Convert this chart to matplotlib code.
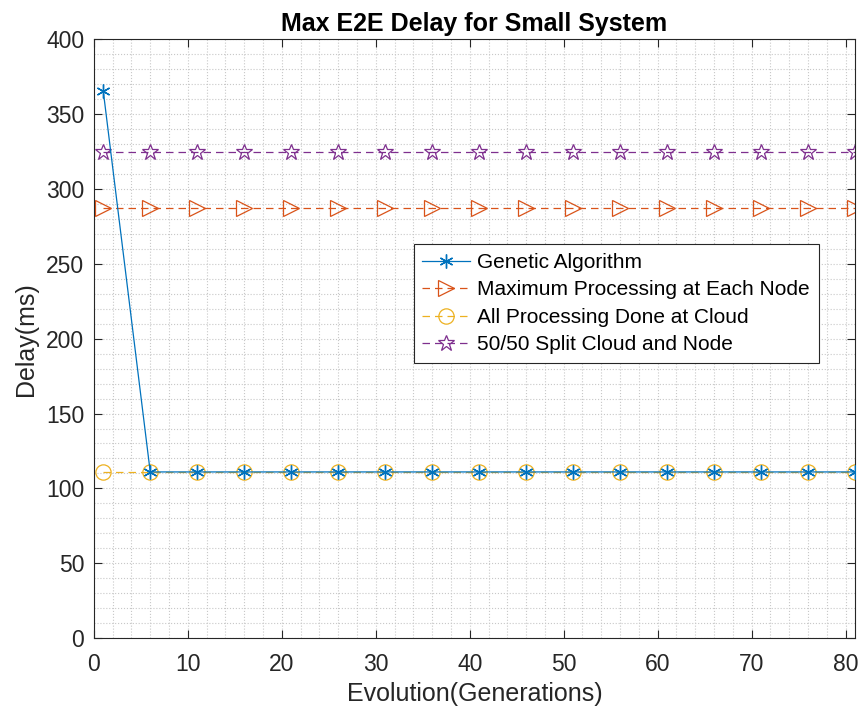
import matplotlib.pyplot as plt
from matplotlib.ticker import MultipleLocator

plt.rcParams['font.family'] = ['Liberation Sans', 'DejaVu Sans']

generations = [1, 6, 11, 16, 21, 26, 31, 36, 41, 46, 51, 56, 61, 66, 71, 76, 81]
genetic = [365.5] + [111] * 16
max_node = [287] * 17
all_cloud = [111] * 17
split = [324.5] * 17

fig = plt.figure(figsize=(8.61, 7.13), dpi=100)
ax = fig.add_axes([0.109, 0.105, 0.884, 0.840])

ax.plot(generations, genetic, '-', marker=(6, 2, 0), color='#0072BD', lw=0.9,
        ms=10, mew=1.0, label='Genetic Algorithm', zorder=5)
ax.plot(generations, max_node, '--', marker='>', color='#D95319', lw=0.9,
        ms=11, mfc='none', mew=0.9, label='Maximum Processing at Each Node', dashes=(6, 4))
ax.plot(generations, all_cloud, '--', marker='o', color='#EDB120', lw=0.9,
        ms=11, mfc='none', mew=0.9, label='All Processing Done at Cloud', dashes=(6, 4))
ax.plot(generations, split, '--', marker='*', color='#7E2F8E', lw=0.9,
        ms=12, mfc='none', mew=0.9, label='50/50 Split Cloud and Node', dashes=(6, 4))

ax.set_xlim(0, 81)
ax.set_ylim(0, 400)
ax.xaxis.set_major_locator(MultipleLocator(10))
ax.xaxis.set_minor_locator(MultipleLocator(2))
ax.yaxis.set_major_locator(MultipleLocator(50))
ax.yaxis.set_minor_locator(MultipleLocator(10))
ax.grid(which='both', ls=':', color='#c8c8c8', lw=0.8)
ax.set_axisbelow(True)
ax.tick_params(which='both', direction='in', top=True, right=True,
               labelsize=16.5, colors='#262626', width=0.8)
ax.tick_params(which='major', length=6)
ax.tick_params(axis='x', which='major', pad=11)
ax.tick_params(axis='y', which='major', pad=7)
ax.tick_params(which='minor', length=0)
for s in ax.spines.values():
    s.set_color('#262626')
    s.set_linewidth(0.8)

ax.set_title('Max E2E Delay for Small System', fontsize=18, fontweight='bold', pad=6)
ax.set_xlabel('Evolution(Generations)', fontsize=18, color='#262626', labelpad=4)
ax.set_ylabel('Delay(ms)', fontsize=18, color='#262626', labelpad=6)

leg = ax.legend(loc='upper left', bbox_to_anchor=(0.42, 0.658), fontsize=15,
                fancybox=False, framealpha=1, edgecolor='#262626',
                handlelength=2.3, handletextpad=0.35, borderpad=0.42,
                labelspacing=0.41, borderaxespad=0)
leg.get_frame().set_linewidth(0.8)

fig.savefig('out.png', dpi=100)
